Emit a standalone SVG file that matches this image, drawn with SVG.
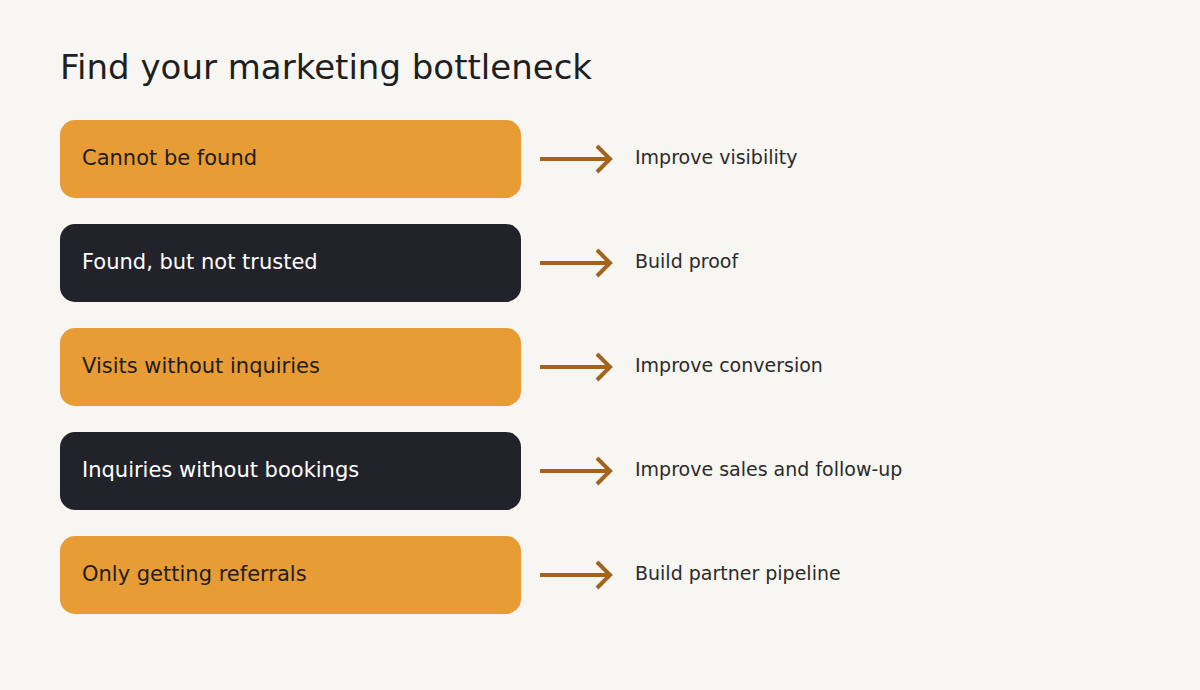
<svg xmlns="http://www.w3.org/2000/svg" width="1200" height="690" viewBox="0 0 1200 690">
<style>
text{font-family:"DejaVu Sans",sans-serif}
.o{fill:#e79c36}.d{fill:#22232a}
.tl{font-size:21px;fill:#1f1d1b}.tl.w{fill:#ffffff}
.r{font-size:19px;fill:#2b2b2b}
.a{stroke:#a4621f;stroke-width:4;fill:none}
</style>
<rect width="1200" height="690" fill="#f7f6f2"/>
<text x="60" y="79" font-size="34" fill="#1f1f1f">Find your marketing bottleneck</text>
<g id="n1"><rect class="o" x="60" y="120" width="461" height="78" rx="15"/><text class="tl" x="82" y="165">Cannot be found</text></g>
<g id="n2"><rect class="d" x="60" y="224" width="461" height="78" rx="15"/><text class="tl w" x="82" y="269">Found, but not trusted</text></g>
<g id="n3"><rect class="o" x="60" y="328" width="461" height="78" rx="15"/><text class="tl" x="82" y="373">Visits without inquiries</text></g>
<g id="n4"><rect class="d" x="60" y="432" width="461" height="78" rx="15"/><text class="tl w" x="82" y="477">Inquiries without bookings</text></g>
<g id="n5"><rect class="o" x="60" y="536" width="461" height="78" rx="15"/><text class="tl" x="82" y="581">Only getting referrals</text></g>
<g id="r1"><text class="r" x="635" y="164">Improve visibility</text></g>
<g id="r2"><text class="r" x="635" y="268">Build proof</text></g>
<g id="r3"><text class="r" x="635" y="372">Improve conversion</text></g>
<g id="r4"><text class="r" x="635" y="476">Improve sales and follow-up</text></g>
<g id="r5"><text class="r" x="635" y="580">Build partner pipeline</text></g>
<g id="connectors">
<path class="a" d="M540 159H610M597 146L610 159L597 172"/>
<path class="a" d="M540 263H610M597 250L610 263L597 276"/>
<path class="a" d="M540 367H610M597 354L610 367L597 380"/>
<path class="a" d="M540 471H610M597 458L610 471L597 484"/>
<path class="a" d="M540 575H610M597 562L610 575L597 588"/>
</g>
</svg>
